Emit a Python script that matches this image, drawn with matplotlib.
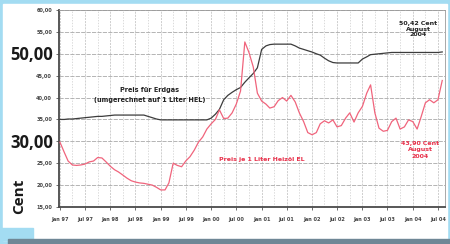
import matplotlib.pyplot as plt
import matplotlib.dates as mdates
import pandas as pd
from matplotlib.patches import Rectangle

# Monthly prices in Cent, Jan 1997 - Aug 2004
months = pd.date_range("1997-01-01", periods=92, freq="MS")

gas = [35.0, 35.0, 35.1, 35.1, 35.2, 35.3, 35.4, 35.5, 35.6, 35.7, 35.7, 35.8,
       35.9, 36.0, 36.0, 36.0, 36.0, 36.0, 36.0, 36.0, 36.0, 35.7, 35.4, 35.1,
       34.9, 34.9, 34.9, 34.9, 34.9, 34.9, 34.9, 34.9, 34.9, 34.9, 34.9, 34.9,
       35.3, 36.2, 37.3, 39.5, 40.5, 41.2, 41.8, 42.3, 43.5, 44.5, 45.5, 46.8,
       51.0, 51.8, 52.1, 52.2, 52.2, 52.2, 52.2, 52.2, 51.8, 51.3, 51.0, 50.7,
       50.4, 50.0, 49.7, 49.0, 48.4, 48.0, 47.9, 47.9, 47.9, 47.9, 47.9, 47.9,
       48.8, 49.3, 49.8, 49.9, 50.0, 50.1, 50.2, 50.3, 50.3, 50.3, 50.3, 50.3,
       50.3, 50.3, 50.3, 50.3, 50.3, 50.3, 50.3, 50.42]

oil = [29.8, 27.5, 25.5, 24.6, 24.5, 24.6, 24.8, 25.3, 25.5, 26.3, 26.2, 25.3,
       24.3, 23.5, 23.0, 22.3, 21.6, 21.0, 20.7, 20.5, 20.4, 20.2, 20.0, 19.5,
       18.9, 18.9, 20.5, 25.0, 24.5, 24.2, 25.5, 26.5, 28.0, 29.8, 31.0, 32.8,
       34.0, 35.0, 37.2, 35.2, 35.3, 36.5, 38.5, 41.5, 52.7, 50.3, 47.0, 41.0,
       39.2, 38.5, 37.6, 37.9, 39.3, 40.0, 39.2, 40.5, 39.0, 36.5, 34.5, 32.0,
       31.5, 32.0, 34.0, 34.7, 34.2, 34.9, 33.3, 33.6, 35.3, 36.5, 34.4, 36.5,
       38.0, 41.0, 42.9, 36.5, 33.0, 32.3, 32.5, 34.5, 35.3, 32.8, 33.3, 34.9,
       34.5, 32.8, 35.6, 38.8, 39.5, 38.8, 39.5, 43.9]

tick_dates = pd.date_range("1997-01-01", "2004-07-01", freq="6MS")
tick_labels = ["Jan 97", "Jul 97", "Jan 98", "Jul 98", "Jan 99", "Jul 99",
               "Jan 00", "Jul 00", "Jan 01", "Jul 01", "Jan 02", "Jul 02",
               "Jan 03", "Jul 03", "Jan 04", "Jul 04"]
y_ticks = [15, 20, 25, 30, 35, 40, 45, 50, 55, 60]
y_labels = ["15,00", "20,00", "25,00", "", "35,00", "40,00", "45,00", "",
            "55,00", "60,00"]

W, H = 450, 244


def fx(x):
    return x / W


def fy(y):
    return 1 - y / H


fig = plt.figure(figsize=(4.5, 2.44), dpi=100, facecolor="#a3dcf2")

# white panel, blue corner and grey strip at the bottom
fig.patches.append(Rectangle((fx(3), fy(240)), fx(444), 236 / H,
                             transform=fig.transFigure, color="white", zorder=-10))
fig.patches.append(Rectangle((0, fy(240)), fx(33), 12 / H,
                             transform=fig.transFigure, color="#a3dcf2", zorder=-9))
fig.patches.append(Rectangle((fx(8), 0), fx(442), 5 / H,
                             transform=fig.transFigure, color="#6f8796", zorder=-8))

ax = fig.add_axes([fx(59), fy(207), fx(445 - 59), (207 - 10) / H])
ax.set_facecolor("white")

ax.plot(months, gas, color="#3c3c3c", lw=0.9, zorder=3)
ax.plot(months, oil, color="#f0647c", lw=0.9, zorder=3)

ax.set_xlim(pd.Timestamp("1996-12-25"), pd.Timestamp("2004-08-21"))
ax.set_ylim(15, 60)

ax.set_xticks(tick_dates)
ax.set_xticklabels(tick_labels)
ax.xaxis.set_minor_locator(mdates.MonthLocator(bymonth=[1, 4, 7, 10]))
ax.set_yticks(y_ticks)
ax.set_yticklabels(y_labels)

ax.grid(which="major", axis="y", color="#a8a8a8", lw=0.6, ls=(0, (5, 1.5)))
ax.grid(which="major", axis="x", color="#bcbcbc", lw=0.5, ls=(0, (3, 1.5)))
ax.grid(which="minor", axis="x", color="#cccccc", lw=0.5, ls=(0, (2, 2)))

ax.tick_params(which="both", length=2, width=0.6, color="#555555",
               labelsize=3.6, labelcolor="#444444", pad=3)
ax.tick_params(axis="x", pad=5)
ax.tick_params(which="minor", length=0)
for lbl in ax.get_xticklabels() + ax.get_yticklabels():
    lbl.set_fontweight("bold")

for side in ["left", "bottom"]:
    ax.spines[side].set_color("#4a4a4a")
    ax.spines[side].set_linewidth(1.3)
for side in ["top", "right"]:
    ax.spines[side].set_color("#9a9a9a")
    ax.spines[side].set_linewidth(0.6)

# big axis labels
big = dict(family="Open Sans", fontweight="bold", color="#1a1a1a")
fig.text(fx(32), fy(55), "50,00", ha="center", va="center", fontsize=12, **big)
fig.text(fx(32), fy(143), "30,00", ha="center", va="center", fontsize=12, **big)
fig.text(fx(19), fy(196), "Cent", ha="center", va="center", fontsize=11,
         rotation=90, **big)

# annotations
small = dict(ha="center", va="center", fontweight="bold", linespacing=1.25)
fig.text(fx(150), fy(90), "Preis für Erdgas", fontsize=4.7, color="#222222",
         **small)
fig.text(fx(150), fy(100), "(umgerechnet auf 1 Liter HEL)", fontsize=4.7,
         color="#222222", **small)
fig.text(fx(262), fy(159), "Preis je 1 Liter Heizöl EL", fontsize=4.5,
         color="#e8304a", **small)
fig.text(fx(418), fy(29), "50,42 Cent\nAugust\n2004", fontsize=4.5,
         color="#222222", **small)
fig.text(fx(420), fy(150), "43,90 Cent\nAugust\n2004", fontsize=4.5,
         color="#e8304a", **small)

fig.savefig("out.png", dpi=100, facecolor=fig.get_facecolor())
